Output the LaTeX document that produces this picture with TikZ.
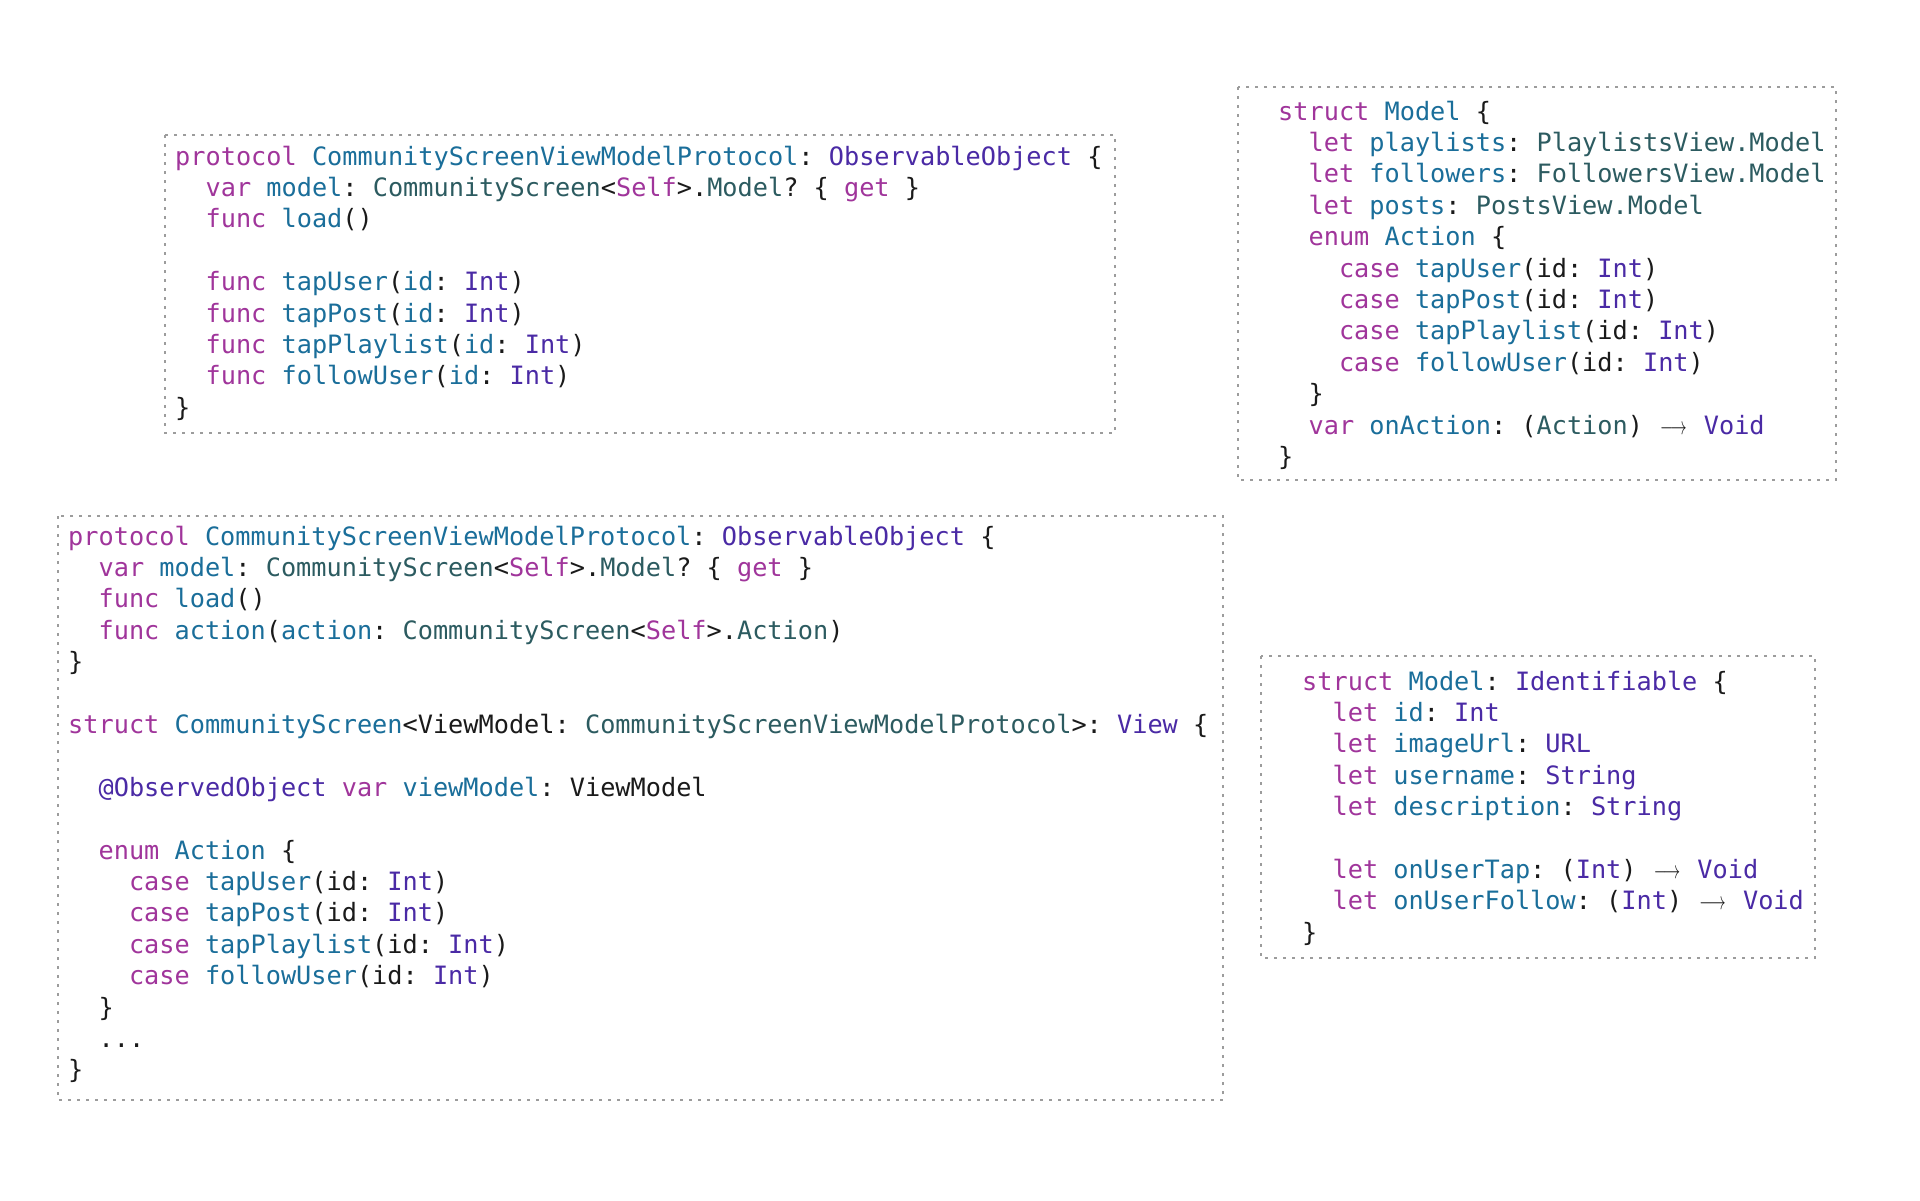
\documentclass[tikz,border=0pt]{standalone}
\usepackage{fontspec}
\usepackage{graphicx}
\setmonofont{DejaVu Sans Mono}
\definecolor{kw}{HTML}{A0359B}
\definecolor{decl}{HTML}{1A6E9A}
\definecolor{proj}{HTML}{2C5B60}
\definecolor{sysc}{HTML}{4A2AA5}
\definecolor{plain}{HTML}{1A1A1A}
\definecolor{framec}{HTML}{9C9C9C}
\newcommand\ckw[1]{\textcolor{kw}{#1}}
\newcommand\cdecl[1]{\textcolor{decl}{#1}}
\newcommand\cproj[1]{\textcolor{proj}{#1}}
\newcommand\csys[1]{\textcolor{sysc}{#1}}
\newcommand\codefnt{\ttfamily\fontsize{25.25pt}{31.4pt}\selectfont}
\newlength\cwid
\newcommand\ind[1]{\hspace*{#1\cwid}}
\newcommand\arr{\makebox[2\cwid][c]{\scalebox{0.66}[1]{$\longrightarrow$}}}
\begin{document}
\settowidth{\cwid}{\codefnt x}
\begin{tikzpicture}[x=1pt,y=-1pt,
  codeline/.style={anchor=base west,inner sep=0pt,font=\codefnt,text=plain},
  frame/.style={draw=framec,line width=2.8pt,dash pattern=on 2.8pt off 6.2pt}]
\def\ls{31.4}
\useasboundingbox[fill=white] (0,0) rectangle (1920,1200);
% ---------- frames ----------
\draw[frame] (165,135) rectangle (1115,433);
\draw[frame] (1238,87) rectangle (1836,480);
\draw[frame] (58,516) rectangle (1223,1100);
\draw[frame] (1261,656) rectangle (1815,958);
% ---------- box 1 ----------
\node[codeline] (a0) at (175,165+0*\ls) {\ckw{protocol} \cdecl{CommunityScreenViewModelProtocol}: \csys{ObservableObject} \{};
\node[codeline] (a1) at (175,165+1*\ls) {\ind2\ckw{var} \cdecl{model}: \cproj{CommunityScreen}<\ckw{Self}>.\cproj{Model}? \{ \ckw{get} \}};
\node[codeline] (a2) at (175,165+2*\ls) {\ind2\ckw{func} \cdecl{load}()};
\node[codeline] (a4) at (175,165+4*\ls) {\ind2\ckw{func} \cdecl{tapUser}(\cdecl{id}: \csys{Int})};
\node[codeline] (a5) at (175,165+5*\ls) {\ind2\ckw{func} \cdecl{tapPost}(\cdecl{id}: \csys{Int})};
\node[codeline] (a6) at (175,165+6*\ls) {\ind2\ckw{func} \cdecl{tapPlaylist}(\cdecl{id}: \csys{Int})};
\node[codeline] (a7) at (175,165+7*\ls) {\ind2\ckw{func} \cdecl{followUser}(\cdecl{id}: \csys{Int})};
\node[codeline] (a8) at (175,165+8*\ls) {\}};
% ---------- box 2 ----------
\node[codeline] (b0) at (1278,120+0*\ls) {\ckw{struct} \cdecl{Model} \{};
\node[codeline] (b1) at (1278,120+1*\ls) {\ind2\ckw{let} \cdecl{playlists}: \cproj{PlaylistsView.Model}};
\node[codeline] (b2) at (1278,120+2*\ls) {\ind2\ckw{let} \cdecl{followers}: \cproj{FollowersView.Model}};
\node[codeline] (b3) at (1278,120+3*\ls) {\ind2\ckw{let} \cdecl{posts}: \cproj{PostsView.Model}};
\node[codeline] (b4) at (1278,120+4*\ls) {\ind2\ckw{enum} \cdecl{Action} \{};
\node[codeline] (b5) at (1278,120+5*\ls) {\ind4\ckw{case} \cdecl{tapUser}(id: \csys{Int})};
\node[codeline] (b6) at (1278,120+6*\ls) {\ind4\ckw{case} \cdecl{tapPost}(id: \csys{Int})};
\node[codeline] (b7) at (1278,120+7*\ls) {\ind4\ckw{case} \cdecl{tapPlaylist}(id: \csys{Int})};
\node[codeline] (b8) at (1278,120+8*\ls) {\ind4\ckw{case} \cdecl{followUser}(id: \csys{Int})};
\node[codeline] (b9) at (1278,120+9*\ls) {\ind2\}};
\node[codeline] (b10) at (1278,120+10*\ls) {\ind2\ckw{var} \cdecl{onAction}: (\cproj{Action}) \arr{} \csys{Void}};
\node[codeline] (b11) at (1278,120+11*\ls) {\}};
% ---------- box 3 ----------
\node[codeline] (c0) at (68,545+0*\ls) {\ckw{protocol} \cdecl{CommunityScreenViewModelProtocol}: \csys{ObservableObject} \{};
\node[codeline] (c1) at (68,545+1*\ls) {\ind2\ckw{var} \cdecl{model}: \cproj{CommunityScreen}<\ckw{Self}>.\cproj{Model}? \{ \ckw{get} \}};
\node[codeline] (c2) at (68,545+2*\ls) {\ind2\ckw{func} \cdecl{load}()};
\node[codeline] (c3) at (68,545+3*\ls) {\ind2\ckw{func} \cdecl{action}(\cdecl{action}: \cproj{CommunityScreen}<\ckw{Self}>.\cproj{Action})};
\node[codeline] (c4) at (68,545+4*\ls) {\}};
\node[codeline] (c6) at (68,545+6*\ls) {\ckw{struct} \cdecl{CommunityScreen}<ViewModel: \cproj{CommunityScreenViewModelProtocol}>: \csys{View} \{};
\node[codeline] (c8) at (68,545+8*\ls) {\ind2\csys{@ObservedObject} \ckw{var} \cdecl{viewModel}: ViewModel};
\node[codeline] (c10) at (68,545+10*\ls) {\ind2\ckw{enum} \cdecl{Action} \{};
\node[codeline] (c11) at (68,545+11*\ls) {\ind4\ckw{case} \cdecl{tapUser}(id: \csys{Int})};
\node[codeline] (c12) at (68,545+12*\ls) {\ind4\ckw{case} \cdecl{tapPost}(id: \csys{Int})};
\node[codeline] (c13) at (68,545+13*\ls) {\ind4\ckw{case} \cdecl{tapPlaylist}(id: \csys{Int})};
\node[codeline] (c14) at (68,545+14*\ls) {\ind4\ckw{case} \cdecl{followUser}(id: \csys{Int})};
\node[codeline] (c15) at (68,545+15*\ls) {\ind2\}};
\node[codeline] (c16) at (68,545+16*\ls) {\ind2...};
\node[codeline] (c17) at (68,545+17*\ls) {\}};
% ---------- box 4 ----------
\node[codeline] (d0) at (1302,690+0*\ls) {\ckw{struct} \cdecl{Model}: \csys{Identifiable} \{};
\node[codeline] (d1) at (1302,690+1*\ls) {\ind2\ckw{let} \cdecl{id}: \csys{Int}};
\node[codeline] (d2) at (1302,690+2*\ls) {\ind2\ckw{let} \cdecl{imageUrl}: \csys{URL}};
\node[codeline] (d3) at (1302,690+3*\ls) {\ind2\ckw{let} \cdecl{username}: \csys{String}};
\node[codeline] (d4) at (1302,690+4*\ls) {\ind2\ckw{let} \cdecl{description}: \csys{String}};
\node[codeline] (d6) at (1302,690+6*\ls) {\ind2\ckw{let} \cdecl{onUserTap}: (\csys{Int}) \arr{} \csys{Void}};
\node[codeline] (d7) at (1302,690+7*\ls) {\ind2\ckw{let} \cdecl{onUserFollow}: (\csys{Int}) \arr{} \csys{Void}};
\node[codeline] (d8) at (1302,690+8*\ls) {\}};
\end{tikzpicture}
\end{document}
